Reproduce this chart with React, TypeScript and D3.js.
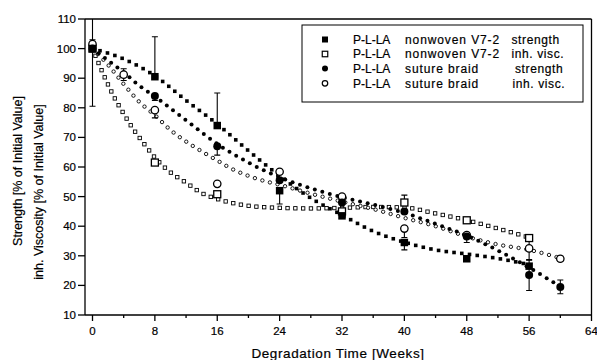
import React, { useEffect, useRef } from 'react';
import * as d3 from 'd3';

const W = 597;
const H = 360;

// ---- measured data (large markers) ----
const nwStrengthWeeks = [0, 8, 16, 24, 32, 40, 48, 56];
const nwStrengthValues = [100, 90.5, 74, 52, 43.5, 34.5, 29, 26.5];
const nwStrengthErrLow = [19.5, 0, 0, 4.5, 0, 2.5, 0, 0];
const nwStrengthErrHigh = [19.5, 13.5, 11, 0, 0, 0, 0, 0];

const nwViscWeeks = [0, 8, 16, 32, 40, 48, 56];
const nwViscValues = [100, 61.5, 50.8, 45, 48, 42, 36];
const nwViscErrLow = [0, 0, 0, 0, 0, 0, 0];
const nwViscErrHigh = [0, 0, 0, 0, 2.5, 0, 0];

const suStrengthWeeks = [0, 8, 16, 24, 32, 40, 48, 56, 60];
const suStrengthValues = [100, 84, 67, 55.5, 48, 45, 36.5, 23.5, 19.5];
const suStrengthErrLow = [0, 1.5, 3, 0, 0, 0, 2, 5.2, 2.3];
const suStrengthErrHigh = [0, 0, 0, 0, 0, 0, 0, 5.2, 2.3];

const suViscWeeks = [0, 4, 8, 16, 24, 32, 40, 48, 56, 60];
const suViscValues = [101.5, 91.2, 79.2, 54.3, 58.4, 50, 39.2, 37, 32.5, 29];
const suViscErrLow = [1.5, 2, 2.6, 0, 0, 0, 3, 0, 4, 0.8];
const suViscErrHigh = [1.5, 2, 0, 0, 0, 0, 0, 0, 3.5, 0.8];

// ---- fitted curves (small dotted markers) ----
const nwStrengthFitWeeks = [0, 4, 8, 12, 16, 20, 24, 28, 32, 36, 40, 44, 48, 52, 56];
const nwStrengthFitValues = [100, 96.5, 90.8, 82.5, 74.5, 65.5, 57, 49.5, 43.8, 38.3, 34.6, 32, 30.6, 29.1, 27];

const nwViscFitWeeks = [0, 1, 2, 3, 4, 5, 6, 7, 8, 10, 12, 14, 16, 18, 20, 24, 28, 32, 36, 40, 44, 48, 52, 56];
const nwViscFitValues = [100, 93.7, 87.8, 82.5, 78, 73.7, 70, 66.5, 63.2, 58.2, 54.7, 51.2, 49.2, 47.8, 46.9, 46.2, 46, 46.2, 46.5, 46.3, 44.3, 42, 39.2, 36.2];

const suStrengthFitWeeks = [0, 2, 4, 6, 8, 12, 16, 20, 24, 28, 32, 36, 40, 44, 48, 52, 56, 60];
const suStrengthFitValues = [100, 96, 92, 87.5, 83.8, 75.8, 67.8, 61.5, 56.5, 52.8, 49.8, 47.3, 44.5, 40.8, 36.8, 31.8, 26, 19.6];

const suViscFitWeeks = [0, 2, 4, 6, 8, 10, 12, 14, 16, 18, 20, 22, 24, 28, 32, 36, 40, 44, 48, 52, 56, 60];
const suViscFitValues = [100, 94.5, 88, 82, 77.5, 72.5, 68.6, 65.3, 62.2, 59.2, 57, 55.3, 54, 51, 48.3, 45.8, 42.8, 40, 36.5, 33.8, 32, 29.2];

// ---- axes ----
const xMajorTicks = [0, 8, 16, 24, 32, 40, 48, 56, 64];
const xMinorTicks = [4, 12, 20, 28, 36, 44, 52, 60];
const yTicks = [10, 20, 30, 40, 50, 60, 70, 80, 90, 100, 110];

// ---- legend ----
const legendMaterials = ['P-L-LA', 'P-L-LA', 'P-L-LA', 'P-L-LA'];
const legendSamples = ['nonwoven V7-2', 'nonwoven V7-2', 'suture braid', 'suture braid'];
const legendProps = ['strength', 'inh. visc.', 'strength', 'inh. visc.'];
const legendTypes = ['fsq', 'osq', 'fci', 'oci'];

const FONT = '"Liberation Sans", Arial, Helvetica, sans-serif';

type MarkerType = 'fsq' | 'osq' | 'fci' | 'oci';

function drawMarker(g: any, type: MarkerType, cx: number, cy: number, size: number, sw: number) {
  if (type === 'fsq' || type === 'osq') {
    g.append('rect')
      .attr('x', cx - size / 2)
      .attr('y', cy - size / 2)
      .attr('width', size)
      .attr('height', size)
      .attr('fill', type === 'fsq' ? '#000' : '#fff')
      .attr('stroke', type === 'fsq' ? 'none' : '#000')
      .attr('stroke-width', sw);
  } else {
    g.append('circle')
      .attr('cx', cx)
      .attr('cy', cy)
      .attr('r', size / 2)
      .attr('fill', type === 'fci' ? '#000' : '#fff')
      .attr('stroke', type === 'fci' ? 'none' : '#000')
      .attr('stroke-width', sw);
  }
}

export default function App() {
  const ref = useRef<SVGSVGElement | null>(null);

  useEffect(() => {
    const svg = d3.select(ref.current);
    svg.selectAll('*').remove();

    const x = d3.scaleLinear().domain([0, 64]).range([92.5, 591.5]);
    const y = d3.scaleLinear().domain([10, 110]).range([315, 19]);
    const left = 85;
    const right = x(64);
    const top = y(110);
    const bottom = y(10);

    svg.append('rect').attr('width', W).attr('height', H).attr('fill', '#fff');

    const defs = svg.append('defs');
    defs.append('clipPath').attr('id', 'plotclip')
      .append('rect').attr('x', left).attr('y', top).attr('width', right - left).attr('height', bottom - top);

    // ---- fitted dotted curves ----
    const line = d3.line<[number, number]>()
      .x((d) => x(d[0]))
      .y((d) => y(d[1]))
      .curve(d3.curveMonotoneX);

    const fits: { w: number[]; v: number[]; type: MarkerType; size: number }[] = [
      { w: nwViscFitWeeks, v: nwViscFitValues, type: 'osq', size: 3.4 },
      { w: suViscFitWeeks, v: suViscFitValues, type: 'oci', size: 3.4 },
      { w: suStrengthFitWeeks, v: suStrengthFitValues, type: 'fci', size: 4 },
      { w: nwStrengthFitWeeks, v: nwStrengthFitValues, type: 'fsq', size: 3.6 },
    ];
    const fitG = svg.append('g');
    fits.forEach((f) => {
      const pts = f.w.map((w, i) => [w, f.v[i]] as [number, number]);
      const path = fitG.append('path').attr('d', line(pts) || '').attr('fill', 'none').attr('stroke', 'none');
      const node = path.node() as SVGPathElement;
      const L = node.getTotalLength();
      const step = 7.8;
      for (let s = 0; s <= L + 0.01; s += step) {
        const p = node.getPointAtLength(Math.min(s, L));
        drawMarker(fitG, f.type, p.x, p.y, f.size, 0.9);
      }
      path.remove();
    });

    // ---- error bars ----
    const errG = svg.append('g').attr('clip-path', 'url(#plotclip)');
    const series: { w: number[]; v: number[]; lo: number[]; hi: number[]; type: MarkerType }[] = [
      { w: nwViscWeeks, v: nwViscValues, lo: nwViscErrLow, hi: nwViscErrHigh, type: 'osq' },
      { w: suViscWeeks, v: suViscValues, lo: suViscErrLow, hi: suViscErrHigh, type: 'oci' },
      { w: suStrengthWeeks, v: suStrengthValues, lo: suStrengthErrLow, hi: suStrengthErrHigh, type: 'fci' },
      { w: nwStrengthWeeks, v: nwStrengthValues, lo: nwStrengthErrLow, hi: nwStrengthErrHigh, type: 'fsq' },
    ];
    series.forEach((s) => {
      s.w.forEach((w, i) => {
        const cx = x(w);
        const v = s.v[i];
        const lo = s.lo[i];
        const hi = s.hi[i];
        if (lo > 0) {
          errG.append('line').attr('x1', cx).attr('x2', cx).attr('y1', y(v)).attr('y2', y(v - lo)).attr('stroke', '#000').attr('stroke-width', 1.1);
          errG.append('line').attr('x1', cx - 3).attr('x2', cx + 3).attr('y1', y(v - lo)).attr('y2', y(v - lo)).attr('stroke', '#000').attr('stroke-width', 1.1);
        }
        if (hi > 0) {
          errG.append('line').attr('x1', cx).attr('x2', cx).attr('y1', y(v)).attr('y2', y(v + hi)).attr('stroke', '#000').attr('stroke-width', 1.1);
          errG.append('line').attr('x1', cx - 3).attr('x2', cx + 3).attr('y1', y(v + hi)).attr('y2', y(v + hi)).attr('stroke', '#000').attr('stroke-width', 1.1);
        }
      });
    });

    // ---- measured markers ----
    const markG = svg.append('g');
    const bigSize: Record<MarkerType, number> = { fsq: 7.5, osq: 7, fci: 8, oci: 7.4 };
    series.forEach((s) => {
      s.w.forEach((w, i) => {
        drawMarker(markG, s.type, x(w), y(s.v[i]), bigSize[s.type], 1.3);
      });
    });

    // ---- frame & axes ----
    const axG = svg.append('g').attr('stroke', '#000').attr('stroke-width', 1.3).attr('fill', 'none');
    axG.append('line').attr('x1', left).attr('x2', left).attr('y1', top).attr('y2', bottom);
    axG.append('line').attr('x1', left).attr('x2', right).attr('y1', bottom).attr('y2', bottom);
    axG.append('line').attr('x1', left).attr('x2', right).attr('y1', top).attr('y2', top);
    axG.append('line').attr('x1', right).attr('x2', right).attr('y1', top).attr('y2', bottom);

    yTicks.forEach((t) => {
      axG.append('line').attr('x1', left - 7).attr('x2', left).attr('y1', y(t)).attr('y2', y(t));
    });
    xMajorTicks.forEach((t) => {
      axG.append('line').attr('x1', x(t)).attr('x2', x(t)).attr('y1', bottom).attr('y2', bottom + 6);
    });
    xMinorTicks.forEach((t) => {
      axG.append('line').attr('x1', x(t)).attr('x2', x(t)).attr('y1', bottom).attr('y2', bottom + 3);
    });

    const txt = svg.append('g').attr('font-family', FONT).attr('fill', '#000')
      .attr('stroke', '#000').attr('stroke-width', 0.2);
    yTicks.forEach((t) => {
      txt.append('text').attr('x', left - 9).attr('y', y(t) + 4).attr('text-anchor', 'end').attr('font-size', 11.5).text(String(t));
    });
    xMajorTicks.forEach((t) => {
      txt.append('text').attr('x', x(t)).attr('y', bottom + 20).attr('text-anchor', 'middle').attr('font-size', 11.5).text(String(t));
    });

    txt.append('text').attr('x', 338).attr('y', 358).attr('text-anchor', 'middle').attr('font-size', 13.5)
      .attr('letter-spacing', 0.6)
      .text('Degradation Time [Weeks]');
    txt.append('text').attr('transform', 'translate(22,171) rotate(-90)').attr('text-anchor', 'middle').attr('font-size', 12.5)
      .text('Strength [% of Initial Value]');
    txt.append('text').attr('transform', 'translate(43,192) rotate(-90)').attr('text-anchor', 'middle').attr('font-size', 12.5)
      .text('inh. Viscosity [% of Initial Value]');

    // ---- legend ----
    const lg = svg.append('g');
    lg.append('rect').attr('x', 302).attr('y', 25).attr('width', 281).attr('height', 77)
      .attr('fill', '#fff').attr('stroke', '#000').attr('stroke-width', 1);
    const rowY = [39.5, 54, 68.5, 83.3];
    const legSize: Record<string, number> = { fsq: 6, osq: 5.5, fci: 6, oci: 5.5 };
    const propX = [511.5, 511.5, 515, 512.5];
    const lt = lg.append('g').attr('font-family', FONT).attr('font-size', 12)
      .attr('fill', '#000').attr('stroke', '#000').attr('stroke-width', 0.2);
    legendTypes.forEach((t, i) => {
      drawMarker(lg, t as MarkerType, 325, rowY[i], legSize[t], 1.2);
      const ty = rowY[i] + 4.3;
      lt.append('text').attr('x', 353).attr('y', ty).text(legendMaterials[i]);
      lt.append('text').attr('x', 405).attr('y', ty).attr('letter-spacing', 0.9).text(legendSamples[i]);
      lt.append('text').attr('x', propX[i]).attr('y', ty).attr('letter-spacing', 0.6).text(legendProps[i]);
    });
  }, []);

  return (
    <svg
      ref={ref}
      width={W}
      height={H}
      viewBox={`0 0 ${W} ${H}`}
      style={{ position: 'absolute', left: 0, top: 0, display: 'block' }}
    />
  );
}
